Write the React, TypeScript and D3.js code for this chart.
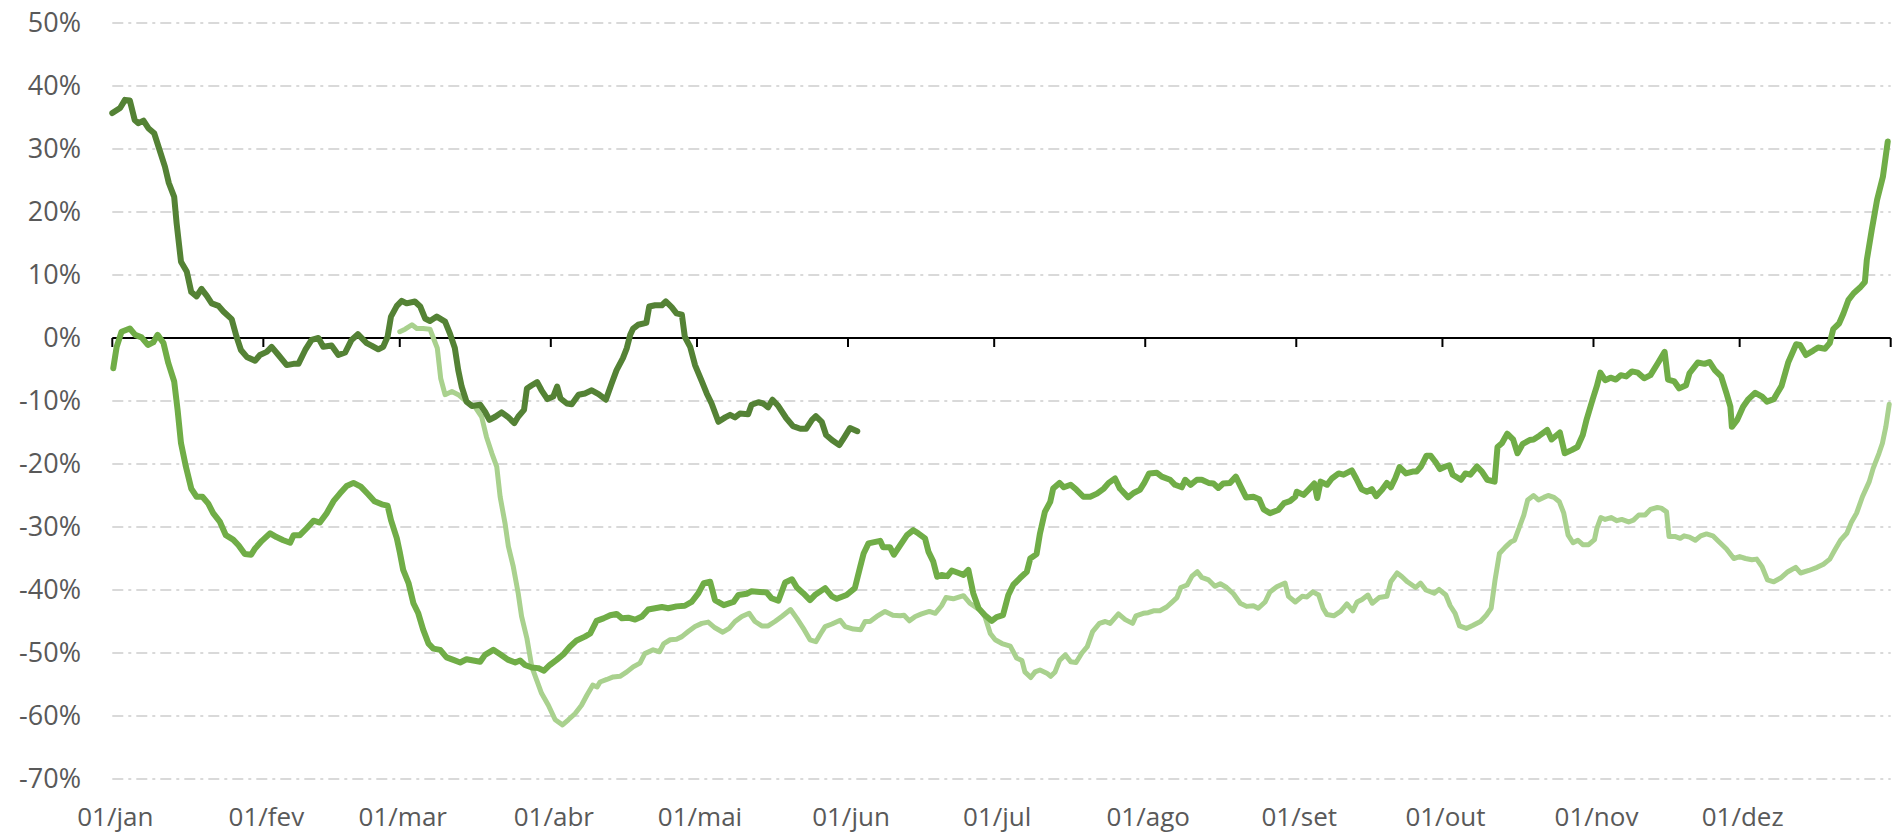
import { useEffect, useRef } from "react";
import * as d3 from "d3";

// day of year (0 = 01/jan) and % change
const serieEscura: [number, number][] = [
  [0, 35.7], [1.6, 36.5], [2.6, 37.8], [3.6, 37.7], [4.6, 34.6], [5.3, 34.1], [6.4, 34.5], [7.4, 33.3], [8.6, 32.5], [9.8, 29.6],
  [10.8, 27.2], [11.6, 24.6], [12.7, 22.4], [13.2, 18.2], [14.1, 12.1], [15.3, 10.5], [16.2, 7.3], [17.3, 6.6], [18.3, 7.8], [19.4, 6.7],
  [20.4, 5.5], [21.8, 5.1], [22.8, 4.2], [24.5, 3.0], [25.5, 0.2], [26.4, -1.9], [27.6, -3.0], [29.3, -3.6], [30.3, -2.7], [31.7, -2.2],
  [32.7, -1.4], [34.1, -2.7], [35.8, -4.3], [37.2, -4.1], [38.2, -4.1], [39.6, -1.9], [40.9, -0.3], [42.3, 0], [43.3, -1.4], [45, -1.2],
  [46.4, -2.7], [47.8, -2.3], [49.1, -0.3], [50.4, 0.6], [52.2, -0.8], [53.2, -1.2], [54.6, -1.8], [55.6, -1.4], [56.5, 0.2], [57.2, 3.4],
  [58.4, 5.1], [59.4, 5.9], [60.4, 5.5], [62.1, 5.8], [63.2, 5.0], [64.2, 3.1], [65.2, 2.7], [66.6, 3.4], [68.3, 2.6], [69.3, 0.7],
  [70.3, -1.6], [71, -5.1], [71.7, -7.7], [72.7, -10.1], [73.8, -10.8], [75.5, -10.6], [76.5, -11.7], [77.4, -13.0], [78.6, -12.5], [79.9, -11.8],
  [81.3, -12.6], [82.5, -13.5], [83.3, -12.5], [84.5, -11.4], [85.1, -8.0], [86.1, -7.5], [87.2, -7.0], [88.1, -8.3], [89.3, -9.7], [90.5, -9.3],
  [91.3, -7.7], [92, -9.6], [93.3, -10.4], [94.3, -10.5], [95.7, -9.0], [97, -8.8], [98.4, -8.3], [99.8, -8.9], [101.3, -9.8], [102.5, -7.2],
  [103.5, -5.1], [104.8, -3.2], [105.6, -1.6], [106.3, 0.5], [106.9, 1.5], [107.9, 2.1], [109.6, 2.4], [110.2, 5.0], [111.4, 5.2], [112.8, 5.2],
  [113.6, 5.8], [114.8, 4.9], [115.8, 3.9], [116.9, 3.7], [117.5, 0.2], [118.6, -1.4], [119.6, -4.3], [121, -6.9], [122, -8.8], [123, -10.4],
  [124.4, -13.3], [125.8, -12.6], [126.8, -12.2], [127.8, -12.6], [128.8, -12.0], [130.5, -12.1], [131.2, -10.6], [132.6, -10.2], [133.6, -10.4], [134.6, -11.0],
  [135.5, -9.8], [136.7, -10.8], [138.3, -12.7], [139.7, -14.0], [141.2, -14.4], [142.4, -14.4], [143.6, -13.0], [144.4, -12.4], [145.6, -13.3], [146.5, -15.4],
  [147.7, -16.2], [149.2, -17.0], [150.2, -15.8], [151.4, -14.3], [152.9, -14.8],
];

const serieMedia: [number, number][] = [
  [0.2, -4.8], [0.9, -1.4], [1.9, 1.0], [3.6, 1.5], [4.7, 0.5], [6.0, 0.1], [7.3, -1.1], [8.4, -0.7], [9.3, 0.5], [10.5, -0.8],
  [11.5, -4.0], [12.7, -6.9], [13.4, -11.4], [14.1, -16.7], [15.1, -20.4], [16.2, -23.9], [17.3, -25.2], [18.5, -25.2], [19.7, -26.3], [20.7, -27.8],
  [22.1, -29.2], [23.3, -31.3], [24.8, -32.0], [25.9, -32.9], [27.2, -34.3], [28.5, -34.4], [29.3, -33.4], [30.7, -32.2], [32.4, -31.0], [33.7, -31.6],
  [35.1, -32.1], [36.5, -32.5], [37.2, -31.3], [38.5, -31.3], [39.9, -30.2], [41.3, -29.0], [42.6, -29.3], [44.0, -27.8], [45.4, -25.9], [46.7, -24.7],
  [48.1, -23.5], [49.5, -23.0], [51.0, -23.6], [52.5, -24.8], [53.8, -25.9], [55.3, -26.4], [56.5, -26.6], [57.2, -28.9], [58.4, -31.8], [59.0, -34],
  [59.7, -36.8], [60.8, -38.9], [61.8, -42.1], [62.8, -43.7], [63.8, -46.3], [64.9, -48.5], [65.9, -49.3], [67.3, -49.5], [68.6, -50.7], [70, -51.1],
  [71.4, -51.5], [72.7, -51.0], [74.1, -51.2], [75.5, -51.4], [76.5, -50.3], [78.2, -49.5], [79.6, -50.2], [81.3, -51.1], [82.7, -51.5], [83.7, -51.2],
  [84.7, -51.9], [86.1, -52.3], [87.4, -52.4], [88.6, -52.8], [89.8, -51.9], [91.2, -51.1], [92.6, -50.2], [93.9, -49.0], [95.3, -48.0], [97, -47.4],
  [98.1, -46.9], [99.4, -44.9], [100.8, -44.5], [102.2, -44.0], [103.5, -43.8], [104.6, -44.5], [105.9, -44.4], [107.3, -44.7], [108.7, -44.2], [110.0, -43.1],
  [111.4, -42.9], [112.8, -42.7], [114.1, -42.9], [115.8, -42.6], [117.5, -42.5], [118.9, -41.9], [120.3, -40.5], [121.4, -38.9], [122.7, -38.7], [123.7, -41.6],
  [125.5, -42.4], [127.5, -41.9], [128.5, -40.8], [130.2, -40.6], [131.2, -40.2], [132.9, -40.3], [134.3, -40.4], [135.3, -41.3], [136.7, -41.7], [138.1, -38.8],
  [139.5, -38.3], [140.5, -39.6], [141.8, -40.5], [143.2, -41.6], [144.2, -40.8], [146.3, -39.7], [147.7, -41.0], [148.7, -41.4], [150.7, -40.8], [152.4, -39.7],
  [153.5, -36.3], [154.2, -34.2], [155.2, -32.6], [157.6, -32.2], [158.2, -33.2], [159.6, -33.2], [160.4, -34.4], [161.7, -32.9], [163.1, -31.3], [164.4, -30.5],
  [165.4, -31.0], [166.8, -31.8], [167.5, -33.9], [168.5, -35.5], [169.3, -37.9], [170.2, -37.6], [171.4, -37.8], [172.3, -36.9], [173.7, -37.3], [174.7, -37.6],
  [175.7, -36.8], [176.7, -40.5], [177.8, -42.9], [179.1, -44.0], [180.5, -44.9], [181.5, -44.3], [182.8, -44.0], [183.9, -40.8], [184.9, -39.2], [186.3, -38.1],
  [187.7, -37.1], [188.4, -35.0], [189.7, -34.3], [190.4, -31.0], [191.4, -27.6], [192.5, -26.0], [193.1, -23.9], [194.4, -23.0], [195.3, -23.7], [196.7, -23.3],
  [197.9, -24.1], [199.3, -25.2], [200.7, -25.2], [202.1, -24.7], [203.5, -23.9], [204.5, -23.0], [205.8, -22.3], [206.8, -23.9], [208.5, -25.3], [209.6, -24.6],
  [210.9, -24.1], [211.8, -23.0], [212.8, -21.5], [214.4, -21.4], [215.4, -22.0], [217.1, -22.5], [218.1, -23.3], [219.5, -23.7], [220.2, -22.5], [221.3, -23.3],
  [222.6, -22.5], [223.6, -22.5], [225, -23.0], [226, -23.1], [227, -23.8], [228, -23.1], [229.4, -23.0], [230.6, -22.0], [231.6, -23.6], [232.7, -25.3],
  [234.2, -25.2], [235.4, -25.6], [236.3, -27.2], [237.6, -27.8], [239.3, -27.3], [240.5, -26.2], [241.7, -25.9], [242.8, -25.2], [243.1, -24.4], [244.5, -24.9],
  [245.5, -24.1], [246.7, -23.1], [247.3, -25.4], [248.0, -22.8], [249.3, -23.3], [250.3, -22.3], [251.7, -21.5], [252.7, -21.7], [254.4, -21.0], [255.3, -22.3],
  [256.4, -24.0], [257.5, -24.4], [258.5, -24.0], [259.4, -25.1], [260.6, -24.1], [261.6, -23.0], [262.4, -23.7], [263.3, -22.3], [264.2, -20.5], [265.5, -21.5],
  [266.9, -21.2], [267.7, -21.2], [268.6, -20.4], [269.7, -18.7], [270.6, -18.7], [271.5, -19.6], [272.5, -20.8], [273.6, -20.4], [274.4, -20.2], [275.1, -21.7],
  [276.8, -22.5], [277.7, -21.5], [278.7, -21.7], [280.1, -20.4], [281.1, -21.2], [282.2, -22.5], [283.7, -22.8], [284.3, -17.3], [285.2, -16.7], [286.3, -15.2],
  [287.5, -16.1], [288.4, -18.3], [289.5, -16.8], [290.9, -16.2], [291.7, -16.1], [292.9, -15.5], [294.5, -14.6], [295.4, -16.1], [297.1, -15.0], [298.1, -18.3],
  [299.5, -17.8], [300.7, -17.3], [301.8, -15.4], [302.6, -12.9], [303.8, -9.8], [304.7, -7.6], [305.4, -5.5], [306.4, -6.7], [307.5, -6.3], [308.6, -6.6],
  [309.6, -5.9], [310.7, -6.1], [311.9, -5.3], [313.1, -5.5], [314.4, -6.4], [315.7, -5.9], [317.2, -4.0], [318.6, -2.2], [319.3, -6.6], [320.6, -6.9],
  [321.6, -8.0], [323, -7.5], [323.7, -5.6], [325.4, -3.9], [326.8, -4.1], [327.8, -3.8], [328.9, -5.1], [330.2, -6.1], [331.3, -8.8], [332.1, -10.9],
  [332.4, -14.1], [333.5, -13.0], [334.7, -10.9], [335.8, -9.7], [337.2, -8.7], [338.6, -9.3], [339.6, -10.1], [341, -9.7], [342.6, -7.6], [344.0, -3.8],
  [345.6, -1.0], [346.4, -1.1], [347.6, -2.7], [349.1, -2.0], [350.1, -1.5], [351.5, -1.7], [352.5, -0.8], [353.2, 1.4], [354.4, 2.3], [355.3, 3.9],
  [356.3, 6.0], [357.4, 7.1], [358.7, 8.0], [359.7, 8.9], [360.1, 12.4], [361.1, 17.1], [362.2, 21.9], [363.4, 25.6], [364.4, 31.2],
];

const serieClara: [number, number][] = [
  [59.0, 1.0], [60.1, 1.4], [61.5, 2.1], [62.5, 1.5], [63.8, 1.5], [65.2, 1.4], [65.9, 0], [66.7, -1.6], [67.4, -6.4], [68.3, -9.0],
  [69.7, -8.5], [71.0, -9.0], [72.7, -10.1], [74.4, -10.9], [75.8, -12.5], [76.8, -15.7], [77.9, -18.3], [78.9, -20.4], [79.6, -25.2], [80.6, -29.4],
  [81.3, -33.1], [82.3, -36.3], [83.3, -40.5], [84.0, -44.2], [85.1, -47.7], [86.1, -52.2], [87.1, -54.3], [88.1, -56.4], [89.5, -58.3], [90.9, -60.6],
  [92.4, -61.4], [93.6, -60.6], [95.0, -59.6], [96.3, -58.3], [97.4, -56.7], [98.6, -55.1], [99.5, -55.4], [100.1, -54.6], [101.5, -54.2], [102.8, -53.8],
  [104.2, -53.7], [105.6, -53.0], [106.9, -52.2], [108.3, -51.6], [109.3, -50.1], [111.0, -49.5], [112.3, -49.8], [113.2, -48.5], [114.5, -47.9], [115.8, -47.8],
  [116.9, -47.4], [118.2, -46.6], [119.6, -45.8], [121.0, -45.3], [122.3, -45.1], [123.7, -46.0], [125.3, -46.7], [126.6, -46.1], [127.8, -45.0], [129.2, -44.2],
  [130.7, -43.7], [131.9, -45.0], [133.3, -45.7], [134.6, -45.7], [136.0, -45.0], [137.4, -44.2], [139.2, -43.1], [140.5, -44.5], [142.0, -46.3], [143.2, -47.9],
  [144.4, -48.2], [145.4, -46.9], [146.3, -45.8], [147.7, -45.4], [149.4, -44.8], [150.4, -45.8], [152.1, -46.2], [153.6, -46.3], [154.5, -45.0], [155.5, -45.0],
  [156.9, -44.2], [158.6, -43.4], [160.2, -44.0], [161.7, -44.1], [162.5, -44.0], [163.6, -44.9], [164.8, -44.2], [166.1, -43.8], [167.7, -43.4], [168.9, -43.7],
  [170.2, -42.5], [171.1, -41.2], [172.6, -41.4], [174.7, -40.9], [176.0, -42.1], [178.1, -43.2], [179.1, -44.2], [180.2, -46.9], [181.2, -47.9], [182.6, -48.5],
  [184.3, -48.9], [185.6, -50.8], [186.7, -51.2], [187.3, -53.0], [188.5, -53.9], [189.4, -53.0], [190.4, -52.7], [191.8, -53.2], [192.6, -53.7], [193.5, -53.0],
  [194.4, -51.2], [195.6, -50.3], [196.7, -51.4], [197.8, -51.5], [199.0, -50.0], [200.1, -49.0], [201.2, -46.6], [202.6, -45.3], [203.8, -45.0], [204.8, -45.3],
  [206.5, -43.8], [207.9, -44.7], [209.4, -45.3], [210.1, -44.1], [211.6, -43.7], [212.6, -43.6], [213.7, -43.3], [215.0, -43.3], [216.4, -42.7], [217.4, -42.0],
  [218.5, -41.2], [219.3, -39.6], [220.6, -39.2], [221.6, -37.8], [222.7, -37.1], [223.6, -38.0], [225.0, -38.4], [226.3, -39.4], [227.4, -39.0], [228.7, -39.6],
  [230.1, -40.6], [231.5, -42.1], [232.8, -42.6], [234.2, -42.5], [235.2, -42.9], [236.6, -41.9], [237.6, -40.3], [239.0, -39.5], [240.7, -38.9], [241.4, -41.0],
  [242.8, -41.9], [244.2, -41.0], [245.2, -41.1], [246.4, -40.3], [247.6, -40.8], [248.5, -42.9], [249.3, -43.9], [250.7, -44.1], [252.1, -43.4], [253.4, -42.2],
  [254.6, -43.3], [255.5, -41.9], [256.5, -41.5], [257.7, -40.8], [258.6, -42.1], [260.0, -41.2], [261.6, -41.0], [262.4, -38.7], [263.7, -37.3], [264.7, -37.9],
  [265.8, -38.7], [267.5, -39.6], [268.5, -38.9], [269.6, -40.0], [271.3, -40.5], [272.3, -39.9], [273.7, -40.8], [274.6, -42.5], [275.6, -43.7], [276.5, -45.7],
  [277.9, -46.1], [279.3, -45.6], [280.8, -45.0], [282.0, -44.0], [283.0, -42.9], [283.8, -38.4], [284.7, -34.2], [285.9, -33.2], [287.0, -32.4], [287.8, -32.1],
  [288.8, -30.0], [289.7, -28.1], [290.5, -25.7], [291.7, -25.0], [292.7, -25.7], [293.8, -25.3], [294.7, -25.0], [295.9, -25.3], [297.0, -26.0], [297.9, -27.8],
  [298.8, -31.3], [299.8, -32.5], [300.8, -32.1], [301.8, -32.8], [303.0, -32.8], [304.2, -32.0], [304.7, -30.2], [305.5, -28.5], [306.4, -28.8], [307.6, -28.5],
  [308.8, -29.0], [309.8, -28.8], [311.2, -29.2], [312.2, -28.9], [313.3, -28.1], [314.6, -28.1], [315.7, -27.2], [317.1, -26.9], [317.9, -27.0], [319.0, -27.6],
  [319.5, -31.5], [320.7, -31.5], [321.8, -31.8], [322.6, -31.4], [323.7, -31.6], [324.9, -32.1], [326.0, -31.4], [327.2, -31.1], [328.5, -31.4], [329.7, -32.3],
  [331.3, -33.5], [332.8, -35.0], [334.0, -34.7], [335.2, -35.0], [336.5, -35.2], [337.5, -35.1], [338.6, -36.3], [339.7, -38.4], [341.0, -38.7], [342.4, -38.1],
  [343.9, -37.1], [345.5, -36.4], [346.5, -37.3], [348.2, -36.9], [349.9, -36.4], [351.2, -35.9], [352.5, -35.1], [353.5, -33.7], [354.7, -32.1], [356.0, -31.0],
  [356.9, -29.3], [358.0, -27.8], [359.2, -25.2], [360.6, -22.8], [361.4, -20.7], [362.6, -18.3], [363.3, -16.7], [364.0, -14.1], [364.7, -10.5],
];

// month starts (day of year) and their labels
const inicioMes = [0, 31, 59, 90, 120, 151, 181, 212, 243, 273, 304, 334, 365];
const rotulosMes = ["01/jan", "01/fev", "01/mar", "01/abr", "01/mai", "01/jun", "01/jul", "01/ago", "01/set", "01/out", "01/nov", "01/dez"];
const ticksY = [50, 40, 30, 20, 10, 0, -10, -20, -30, -40, -50, -60, -70];

export default function App() {
  const svgRef = useRef<SVGSVGElement | null>(null);

  useEffect(() => {
    if (!svgRef.current) return;

    const width = 1895;
    const height = 833;

    const svg = d3.select(svgRef.current);
    svg.selectAll("*").remove();
    svg.attr("width", width).attr("height", height);

    const x = d3.scaleLinear().domain([0, 365]).range([112.3, 1890.7]);
    const y = d3.scaleLinear().domain([-70, 50]).range([779, 23]);

    const font = "'Open Sans', 'Liberation Sans', sans-serif";

    // gridlines
    svg.append("g")
      .selectAll("line")
      .data(ticksY.filter(d => d !== 0))
      .join("line")
      .attr("x1", x(0))
      .attr("x2", x(365))
      .attr("y1", d => y(d))
      .attr("y2", d => y(d))
      .attr("stroke", "#d9d9d9")
      .attr("stroke-width", 2)
      .attr("stroke-dasharray", "11 5 3 5");

    // y labels
    svg.append("g")
      .selectAll("text")
      .data(ticksY)
      .join("text")
      .attr("x", 81)
      .attr("y", d => y(d))
      .attr("dy", "0.34em")
      .attr("text-anchor", "end")
      .style("font-family", font)
      .style("font-size", "27px")
      .style("fill", "#595959")
      .text(d => `${d}%`);

    // zero axis with month ticks
    const eixo = svg.append("g");
    eixo.append("line")
      .attr("x1", x(0))
      .attr("x2", x(365))
      .attr("y1", y(0))
      .attr("y2", y(0))
      .attr("stroke", "#000")
      .attr("stroke-width", 2);

    eixo.selectAll("line.tick")
      .data(inicioMes)
      .join("line")
      .attr("class", "tick")
      .attr("x1", d => x(d))
      .attr("x2", d => x(d))
      .attr("y1", y(0))
      .attr("y2", y(0) + 9)
      .attr("stroke", "#000")
      .attr("stroke-width", 2);

    // x labels at the bottom
    svg.append("g")
      .selectAll("text")
      .data(rotulosMes)
      .join("text")
      .attr("x", (d, i) => x(inicioMes[i]) + 3)
      .attr("y", 826)
      .attr("text-anchor", "middle")
      .style("font-family", font)
      .style("font-size", "26px")
      .style("fill", "#595959")
      .text(d => d);

    const linha = d3.line<[number, number]>()
      .x(d => x(d[0]))
      .y(d => y(d[1]));

    const series: { dados: [number, number][]; cor: string; largura: number }[] = [
      { dados: serieClara, cor: "#A9D18E", largura: 5 },
      { dados: serieMedia, cor: "#70AD47", largura: 6 },
      { dados: serieEscura, cor: "#548235", largura: 6 },
    ];

    series.forEach(s => {
      svg.append("path")
        .datum(s.dados)
        .attr("fill", "none")
        .attr("stroke", s.cor)
        .attr("stroke-width", s.largura)
        .attr("stroke-linejoin", "round")
        .attr("stroke-linecap", "round")
        .attr("d", linha);
    });
  }, []);

  return (
    <div style={{ position: "absolute", left: 0, top: 0, background: "#fff" }}>
      <svg ref={svgRef}></svg>
    </div>
  );
}
